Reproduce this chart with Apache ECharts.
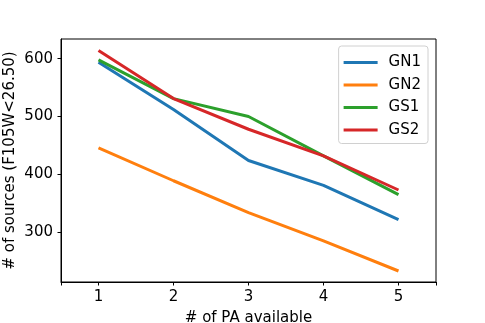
<!DOCTYPE html>
<html>
<head>
<meta charset="utf-8">
<script src="https://cdn.jsdelivr.net/npm/echarts@6/dist/echarts.min.js"></script>
<style>
  html, body { margin: 0; padding: 0; background: #fff; }
  #chart { width: 485px; height: 323px; }
</style>
</head>
<body>
<div id="chart"></div>
<script>
// number of PA available
var pa_counts = [1, 2, 3, 4, 5];
var x_tick_marks = [0.5, 1, 2, 3, 4, 5, 5.5];

var gn1 = [594, 512, 424, 381, 322];
var gn2 = [446, 389, 334, 285, 233];
var gs1 = [598, 531, 500, 432, 365];
var gs2 = [614, 531, 478, 432, 373];

var series_names = ['GN1', 'GN2', 'GS1', 'GS2'];
var series_colors = ['#1f77b4', '#ff7f0e', '#2ca02c', '#d62728'];
var y_ticks = [300, 400, 500, 600];

var font = 'DejaVu Sans';
var fsize = 15;

function pairs(xs, ys)
{
    return xs.map((x, i) => [x, ys[i]]);
}

var chart = echarts.init(document.getElementById('chart'));

var all_values = [gn1, gn2, gs1, gs2];

chart.setOption({
    animation: false,
    grid: {
	left: 61, top: 39, right: 49, bottom: 41,
	outerBoundsMode: 'none',
	containLabel: false,
	show: true, borderColor: '#000', borderWidth: 1
    },
    legend: {
	right: 57, top: 46,
	orient: 'vertical',
	icon: 'rect',
	itemWidth: 34, itemHeight: 3,
	itemGap: 7.5,
	padding: [9, 7, 6, 5],
	borderColor: '#d0d0d0', borderWidth: 1, borderRadius: 3,
	textStyle: { fontFamily: font, fontSize: fsize, color: '#000', padding: [0, 0, 0, 6] },
	data: series_names
    },
    xAxis: {
	type: 'value', min: 0.5, max: 5.5,
	name: '# of PA available',
	nameLocation: 'middle', nameGap: 29,
	nameMoveOverlap: false,
	nameTextStyle: { fontFamily: font, fontSize: fsize, color: '#000' },
	axisLine: { lineStyle: { color: '#000', width: 1 } },
	axisTick: { show: true, length: 3.5, customValues: x_tick_marks, lineStyle: { color: '#000' } },
	axisLabel: { customValues: pa_counts, fontFamily: font, fontSize: fsize, color: '#000', margin: 7.5 },
	splitLine: { show: false }
    },
    yAxis: {
	type: 'value', min: 214, max: 634,
	name: '# of sources (F105W<26.50)',
	nameLocation: 'middle', nameGap: 43,
	nameMoveOverlap: false,
	nameTextStyle: { fontFamily: font, fontSize: fsize, color: '#000' },
	axisLine: { show: true, lineStyle: { color: '#000', width: 1 } },
	axisTick: { show: true, length: 3.5, customValues: y_ticks, lineStyle: { color: '#000' } },
	axisLabel: { customValues: y_ticks, fontFamily: font, fontSize: fsize, color: '#000', margin: 8 },
	splitLine: { show: false }
    },
    series: series_names.map((name, i) => ({
	name: name,
	type: 'line',
	data: pairs(pa_counts, all_values[i]),
	showSymbol: false,
	color: series_colors[i],
	lineStyle: { width: 3, color: series_colors[i] }
    }))
});
</script>
</body>
</html>
